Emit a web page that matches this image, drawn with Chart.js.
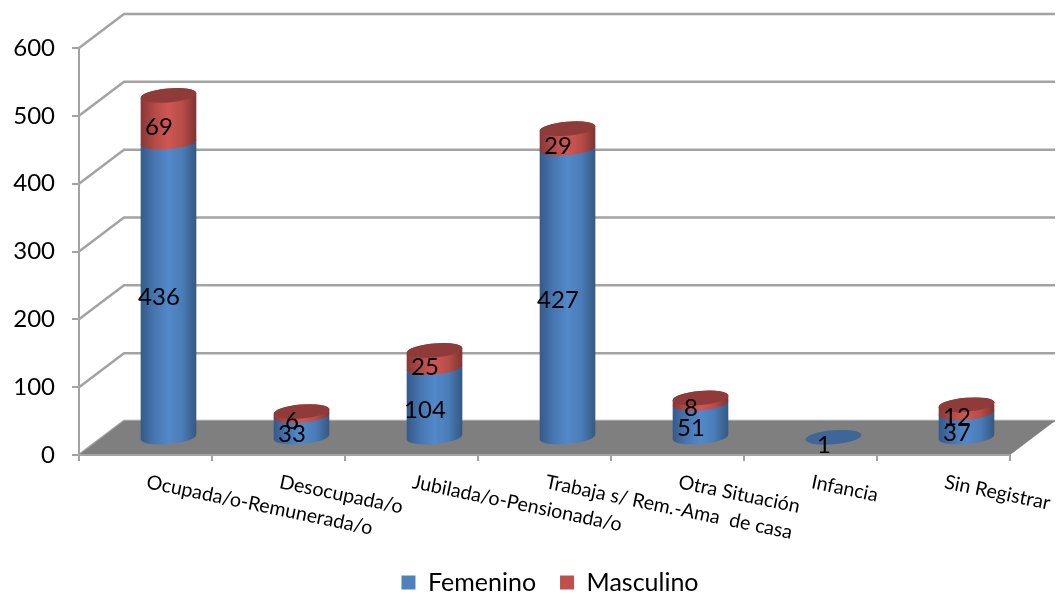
<!DOCTYPE html>
<html>
<head>
<meta charset="utf-8">
<style>
  body { margin: 0; background: #fff; }
  canvas { display: block; }
</style>
</head>
<body>
<canvas id="chart" width="1062" height="597"></canvas>
<script src="https://cdn.jsdelivr.net/npm/chart.js@4"></script>
<script>
const categories = ['Ocupada/o-Remunerada/o', 'Desocupada/o', 'Jubilada/o-Pensionada/o',
    'Trabaja s/ Rem.-Ama  de casa', 'Otra Situación', 'Infancia', 'Sin Registrar'];
const femenino = [436, 33, 104, 427, 51, 1, 37];
const masculino = [69, 6, 25, 29, 8, 0, 12];
const yMax = 600;
const yStep = 100;

// how far the back wall sits from the front axes
const depthX = 45;
const depthY = 34;
const gridColor = '#a3a3a3';
const fontName = 'Lato, Carlito, sans-serif';

const blueShades = ['#36598a', '#4776b0', '#5289ca', '#4a7cb8', '#355880'];
const redShades = ['#853836', '#b44a47', '#ce5753', '#b84c48', '#7d3432'];
const blueTop = '#3f6698';
const redTop = '#8e3b39';

function cylinderPath(ctx, cx, topY, baseY, a, b, tilt) {
    ctx.beginPath();
    ctx.ellipse(cx, baseY, a, b, tilt, Math.PI, 0, true);
    ctx.ellipse(cx, topY, a, b, tilt, 0, Math.PI, true);
    ctx.closePath();
}

function shade(ctx, cx, a, colors) {
    let g = ctx.createLinearGradient(cx - a, 0, cx + a, 0);
    colors.forEach(function (c, i) {
        g.addColorStop(i / (colors.length - 1), c);
    });
    return g;
}

// walls and floor go under the axes
const wallsPlugin = {
    id: 'walls',
    afterLayout(chart) {
        // the legend sits right of the canvas centre in the reference
        chart.legend.left += 45;
        chart.legend.right += 45;
    },
    beforeDraw(chart) {
        const ctx = chart.ctx;
        const area = chart.chartArea;
        const yScale = chart.scales.y;

        ctx.save();
        ctx.strokeStyle = gridColor;
        ctx.lineWidth = 2.5;
        yScale.ticks.forEach(function (t) {
            let y = yScale.getPixelForValue(t.value);
            ctx.beginPath();
            ctx.moveTo(area.left, y);
            ctx.lineTo(area.left + depthX, y - depthY);
            ctx.lineTo(area.right + depthX, y - depthY);
            ctx.stroke();
        });

        ctx.fillStyle = '#7f7f7f';
        ctx.beginPath();
        ctx.moveTo(area.left, area.bottom);
        ctx.lineTo(area.right, area.bottom);
        ctx.lineTo(area.right + depthX, area.bottom - depthY);
        ctx.lineTo(area.left + depthX, area.bottom - depthY);
        ctx.closePath();
        ctx.fill();
        ctx.restore();
    }
};

// bars are replaced by cylinders, still placed from the bar elements
const cylinderPlugin = {
    id: 'cylinders',
    beforeDatasetsDraw(chart) {
        const ctx = chart.ctx;
        const tilt = -5 * Math.PI / 180;
        const blue = chart.getDatasetMeta(0).data;
        const red = chart.getDatasetMeta(1).data;

        ctx.save();
        blue.forEach(function (bar, i) {
            let cx = bar.x + depthX / 2 + 0.5;
            let a = bar.width / 2;
            let b = 7;
            let base = bar.base - depthY / 2;
            let blueY = bar.y - depthY / 2;

            cylinderPath(ctx, cx, blueY, base, a, b, tilt);
            ctx.fillStyle = shade(ctx, cx, a, blueShades);
            ctx.fill();

            if (masculino[i] > 0) {
                let redY = red[i].y - depthY / 2;
                cylinderPath(ctx, cx, redY, blueY, a, b, tilt);
                ctx.fillStyle = shade(ctx, cx, a, redShades);
                ctx.fill();
                ctx.fillStyle = redTop;
                ctx.beginPath();
                ctx.ellipse(cx, redY, a, b, tilt, 0, Math.PI * 2);
                ctx.fill();
            } else {
                ctx.fillStyle = blueTop;
                ctx.beginPath();
                ctx.ellipse(cx, blueY, a, b, tilt, 0, Math.PI * 2);
                ctx.fill();
            }
        });
        ctx.restore();
        return false;
    },
    // afterDatasetsDraw is skipped once the hook above returns false
    afterDraw(chart) {
        const ctx = chart.ctx;
        const xScale = chart.scales.x;

        ctx.save();
        ctx.fillStyle = '#000';
        ctx.textAlign = 'center';
        ctx.textBaseline = 'middle';
        ctx.font = '24px ' + fontName;
        chart.data.datasets.forEach(function (ds, d) {
            chart.getDatasetMeta(d).data.forEach(function (bar, i) {
                if (!ds.data[i]) return;
                let mid = (bar.y + bar.base) / 2;
                ctx.fillText(ds.data[i], bar.x + 13.5, mid - 9);
            });
        });

        // excel starts the slanted labels at the category centre
        ctx.font = '19.6px ' + fontName;
        ctx.textAlign = 'left';
        ctx.textBaseline = 'alphabetic';
        categories.forEach(function (label, i) {
            ctx.save();
            ctx.translate(xScale.getPixelForTick(i), chart.chartArea.bottom + 33);
            ctx.rotate(11.7 * Math.PI / 180);
            ctx.fillText(label, 0, 0);
            ctx.restore();
        });
        ctx.restore();
    }
};

new Chart(document.getElementById('chart').getContext('2d'), {
    type: 'bar',
    data: {
        labels: categories,
        datasets: [
            { label: 'Femenino', data: femenino, backgroundColor: '#4f81bd' },
            { label: 'Masculino', data: masculino, backgroundColor: '#c0504d' }
        ]
    },
    options: {
        responsive: false,
        animation: false,
        barPercentage: 1,
        categoryPercentage: 0.42,
        layout: { padding: { top: 48, right: 52, left: 0, bottom: -8 } },
        scales: {
            x: {
                stacked: true,
                afterFit(scale) { scale.height = 91; },
                ticks: { display: false },
                grid: { drawOnChartArea: false, color: gridColor, lineWidth: 2, tickLength: 6 },
                border: { color: gridColor, width: 2 }
            },
            y: {
                stacked: true,
                min: 0,
                max: yMax,
                afterFit(scale) { scale.width = 79; },
                ticks: {
                    stepSize: yStep,
                    padding: 17,
                    color: '#000',
                    font: { family: fontName, size: 24 }
                },
                grid: { drawOnChartArea: false, color: gridColor, lineWidth: 2, tickLength: 7 },
                border: { color: gridColor, width: 2 }
            }
        },
        plugins: {
            tooltip: { enabled: false },
            legend: {
                position: 'bottom',
                labels: {
                    boxWidth: 14,
                    boxHeight: 14,
                    padding: 24,
                    color: '#000',
                    font: { family: fontName, size: 25 }
                }
            }
        }
    },
    plugins: [wallsPlugin, cylinderPlugin]
});
</script>
</body>
</html>
